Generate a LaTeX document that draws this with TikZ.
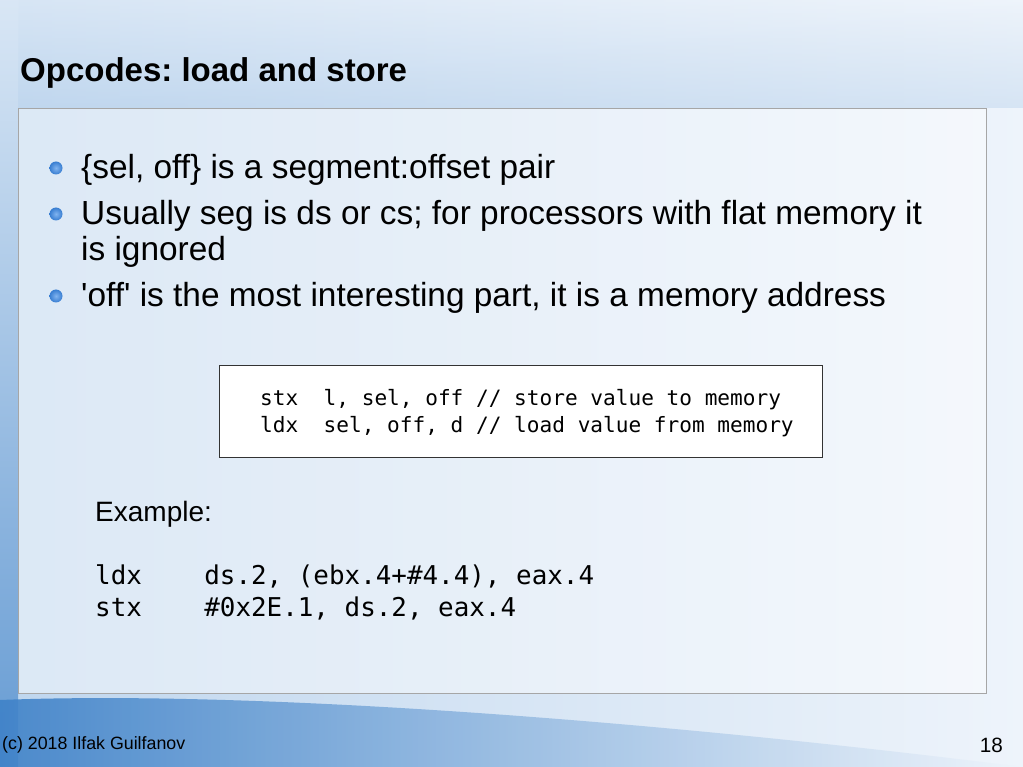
\documentclass[tikz,border=0pt]{standalone}
\usepackage{fontspec}
\setmainfont{Liberation Sans}
\setmonofont{DejaVu Sans Mono}
\usetikzlibrary{calc}
\frenchspacing
\newcommand\straightquote{\XeTeXglyph\XeTeXcharglyph"27\relax}

\definecolor{bglight}{HTML}{EEF4FB}
\definecolor{bgmid}{HTML}{BFD6EE}
\definecolor{bgdark}{HTML}{3F82C8}
\definecolor{bulletblue}{HTML}{3D8BE8}

\tikzset{
  slidetext/.style={inner sep=0pt, anchor=base west, align=left},
  bullettext/.style={slidetext, font=\fontsize{33.4}{36}\selectfont},
  codetext/.style={slidetext, font=\ttfamily\fontsize{21.1}{27}\selectfont},
  exampletext/.style={slidetext, font=\ttfamily\fontsize{25.9}{32}\selectfont},
  bulletdot/.style={inner color=bulletblue!65!white, outer color=bulletblue!90!black}
}

\begin{document}
\begin{tikzpicture}[x=1pt,y=-1pt]
\useasboundingbox (0,0) rectangle (1023,767);
% background
\shade[left color=bgmid, right color=bglight] (0,0) rectangle (1023,767);
\shade[top color=bgmid!60, bottom color=bgdark!80] (0,0) rectangle (18,767);
\shade[left color=bgdark, right color=bglight, opacity=0.9] (0,767) -- (0,700) .. controls (250,690) and (650,720) .. (1023,767) -- cycle;
\shade[top color=bglight, bottom color=bgmid, opacity=0.5] (18,0) rectangle (1023,108);
% title
\node[slidetext, font=\bfseries\fontsize{33}{36}\selectfont] (title) at (20,82) {Opcodes: load and store};
% content panel
\draw[gray!70, fill=white, fill opacity=0.45] (18,108) rectangle (986,693);
\shade[bulletdot] (56,168) circle (6.5);
\shade[bulletdot] (56,214) circle (6.5);
\shade[bulletdot] (56,296) circle (6.5);
\node[bullettext] (b1) at (81,179) {\{sel, off\} is a segment:offset pair};
\node[bullettext] (b2) at (81,261) {Usually seg is ds or cs; for processors with flat memory it\\is ignored};
\node[bullettext] (b3) at (81,307) {\straightquote off\straightquote{} is the most interesting part, it is a memory address};
% code box
\draw[black!80, fill=white] (219,365) rectangle (822,457);
\node[codetext] (c1) at (260,405) {stx~~l, sel, off // store value to memory};
\node[codetext] (c2) at (260,432) {ldx~~sel, off, d // load value from memory};
% example
\node[slidetext, font=\fontsize{28}{32}\selectfont] (ex) at (95,521) {Example:};
\node[exampletext] (e1) at (95,584) {ldx~~~~ds.2, (ebx.4+\#4.4), eax.4};
\node[exampletext] (e2) at (95,616) {stx~~~~\#0x2E.1, ds.2, eax.4};
% footer
\node[slidetext, font=\fontsize{17.8}{20}\selectfont] (foot) at (2,749) {(c) 2018 Ilfak Guilfanov};
\node[inner sep=0pt, anchor=base east, font=\fontsize{20.7}{24}\selectfont] (page) at (1003,752) {18};
\end{tikzpicture}
\end{document}
